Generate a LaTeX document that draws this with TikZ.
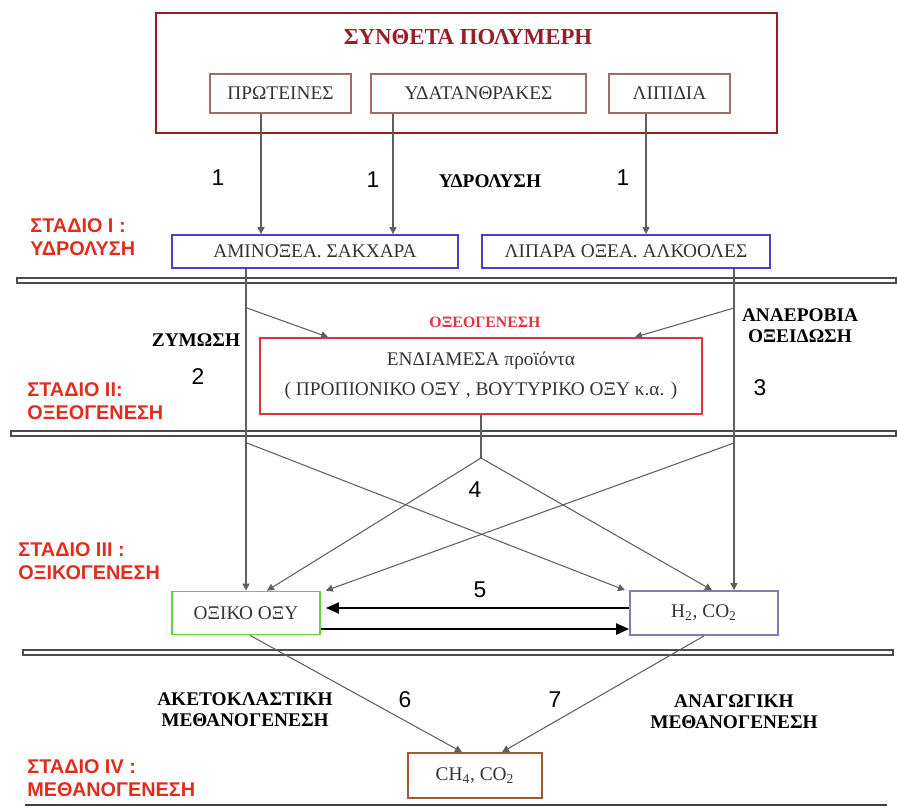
\documentclass[tikz,border=0pt]{standalone}
\usepackage{fontspec}
\setmainfont{Liberation Serif}
\newfontfamily\stagefont{Liberation Sans}
\usepackage{tikz}
\usetikzlibrary{arrows.meta, positioning}

\definecolor{polyred}{RGB}{150,30,40}
\definecolor{inred}{RGB}{165,105,105}
\definecolor{boxblue}{RGB}{80,60,200}
\definecolor{interred}{RGB}{225,50,70}
\definecolor{acidgreen}{RGB}{95,210,60}
\definecolor{gaslilac}{RGB}{130,125,175}
\definecolor{gasbrown}{RGB}{160,90,50}
\definecolor{stagered}{RGB}{225,45,30}
\definecolor{arrowgray}{RGB}{95,95,95}

\begin{document}
\begin{tikzpicture}[x=0.02cm, y=-0.02cm,
    box/.style={draw, line width=1pt, text=black!80, font=\fontsize{11}{13}\selectfont, align=center, inner sep=2pt},
    inbox/.style={box, draw=inred, line width=0.7pt, minimum height=0.78cm},
    arrow/.style={-{Triangle[length=1.4mm, width=1.4mm]}, line width=0.6pt, arrowgray},
    link/.style={line width=0.6pt, arrowgray},
    bigarrow/.style={-{Triangle[length=2.6mm, width=2.2mm]}, line width=1.2pt, black},
    stage/.style={font=\stagefont\bfseries\fontsize{11.3}{12.8}\selectfont, text=stagered, align=left, anchor=west, inner sep=0pt},
    num/.style={font=\stagefont\fontsize{13}{15}\selectfont},
    process/.style={font=\bfseries\fontsize{11}{12}\selectfont, align=center, inner sep=0pt},
    sepline/.style={draw=black!70, line width=0.6pt},
]
\useasboundingbox (0,0) rectangle (897,806);

% Stage separators
\draw[sepline] (17,278) rectangle (896,283);
\draw[sepline] (11,431) rectangle (896,436);
\draw[sepline] (23,650) rectangle (893,655);
\draw[black!75, line width=1.2pt] (25,805) -- (887,805);

% Complex polymers
\node[box, draw=polyred, line width=1.3pt, minimum width=12.42cm, minimum height=2.4cm] (poly) at (466.5,73) {};
\node[font=\bfseries\fontsize{13}{15}\selectfont, text=polyred] (polytitle) at (468,37) {ΣΥΝΘΕΤΑ ΠΟΛΥΜΕΡΗ};
\node[inbox, minimum width=2.82cm] (prot) at (280.5,93.5) {ΠΡΩΤΕΙΝΕΣ};
\node[inbox, minimum width=4.30cm] (carb) at (478.5,93.5) {ΥΔΑΤΑΝΘΡΑΚΕΣ};
\node[inbox, minimum width=2.42cm] (lipid) at (669.5,93.5) {ΛΙΠΙΔΙΑ};

% Stage I products
\node[box, draw=boxblue, minimum width=5.72cm, minimum height=0.66cm] (amino) at (315,251.5) {ΑΜΙΝΟΞΕΑ. ΣΑΚΧΑΡΑ};
\node[box, draw=boxblue, minimum width=5.76cm, minimum height=0.66cm] (fatty) at (626,251.5) {ΛΙΠΑΡΑ ΟΞΕΑ. ΑΛΚΟΟΛΕΣ};

% Stage II intermediates
\node[box, draw=interred, minimum width=8.84cm, minimum height=1.52cm] (inter) at (481,376) {ΕΝΔΙΑΜΕΣΑ προϊόντα\\[4pt]( ΠΡΟΠΙΟΝΙΚΟ ΟΞΥ , ΒΟΥΤΥΡΙΚΟ ΟΞΥ κ.α. )};

% Stage III and IV products
\node[box, draw=acidgreen, minimum width=2.96cm, minimum height=0.86cm] (oxiko) at (246,613) {ΟΞΙΚΟ ΟΞΥ};
\node[box, draw=gaslilac, minimum width=2.96cm, minimum height=0.88cm] (h2) at (704,613) {H\textsubscript{2}, CO\textsubscript{2}};
\node[box, draw=gasbrown, minimum width=2.68cm, minimum height=0.9cm] (ch4) at (475,775.5) {CH\textsubscript{4}, CO\textsubscript{2}};

% Stage labels
\node[stage] (st1) at (30,237) {ΣΤΑΔΙΟ I :\\ΥΔΡΟΛΥΣΗ};
\node[stage] (st2) at (27,401) {ΣΤΑΔΙΟ II:\\ΟΞΕΟΓΕΝΕΣΗ};
\node[stage] (st3) at (18,561) {ΣΤΑΔΙΟ III :\\ΟΞΙΚΟΓΕΝΕΣΗ};
\node[stage] (st4) at (27,778) {ΣΤΑΔΙΟ IV :\\ΜΕΘΑΝΟΓΕΝΕΣΗ};

% Process names
\node[process] (hydro) at (490,181) {ΥΔΡΟΛΥΣΗ};
\node[process] (ferm) at (196,340) {ΖΥΜΩΣΗ};
\node[process, font=\bfseries\fontsize{9}{11}\selectfont, text=interred] (acido) at (485,322) {ΟΞΕΟΓΕΝΕΣΗ};
\node[process] (anox) at (800,326) {ΑΝΑΕΡΟΒΙΑ\\ΟΞΕΙΔΩΣΗ};
\node[process] (aceto) at (245,710) {ΑΚΕΤΟΚΛΑΣΤΙΚΗ\\ΜΕΘΑΝΟΓΕΝΕΣΗ};
\node[process] (reduct) at (734,712) {ΑΝΑΓΩΓΙΚΗ\\ΜΕΘΑΝΟΓΕΝΕΣΗ};

% Step numbers
\foreach \x/\y/\n [count=\i] in {218/178/1, 373/180/1, 623/178/1, 198/377/2, 760/388/3, 475/490/4, 480/590/5, 405/700/6, 555/700/7}
    \node[num] (n\i) at (\x,\y) {\n};

% Hydrolysis arrows
\foreach \src/\dx/\dst in {prot/-0.39cm/amino, carb/-1.71cm/amino, lipid/-0.47cm/fatty}
    \draw[arrow] ([xshift=\dx]\src.south) coordinate (top) -- (top |- \dst.north);

% Branch points
\coordinate (h2in) at ([xshift=0.6cm]h2.north);
\coordinate (zym) at (247,308);
\coordinate (anae) at (734,308);
\coordinate (lmid) at (247,443);
\coordinate (rmid) at (734,443);
\coordinate (split) at (481,458);

% Acidogenesis and acetogenesis
\draw[arrow] (oxiko.north |- amino.south) -- (oxiko.north);
\draw[arrow] (h2in |- fatty.south) -- (h2in);
\draw[arrow] (zym) -- ([xshift=-3.06cm]inter.north);
\draw[arrow] (anae) -- ([xshift=3.08cm]inter.north);
\draw[link] (inter.south) -- (split);
\draw[arrow] (split) -- ([xshift=0.42cm]oxiko.north);
\draw[arrow] (split) -- ([xshift=0.16cm]h2.north);
\draw[arrow] (lmid) -- ([xshift=-1.58cm]h2.north);
\draw[arrow] (rmid) -- ([xshift=0.1cm]oxiko.north east);

% Exchange between acetic acid and hydrogen
\draw[bigarrow] ([yshift=0.1cm]h2.west) -- ([xshift=0.1cm, yshift=0.1cm]oxiko.east);
\draw[bigarrow] ([yshift=-0.32cm]oxiko.east) -- ([yshift=-0.32cm]h2.west);

% Methanogenesis
\draw[arrow] ([xshift=0.08cm]oxiko.south) -- ([xshift=-0.26cm]ch4.north);
\draw[arrow] (h2.south) -- ([xshift=0.54cm]ch4.north);

\end{tikzpicture}
\end{document}
